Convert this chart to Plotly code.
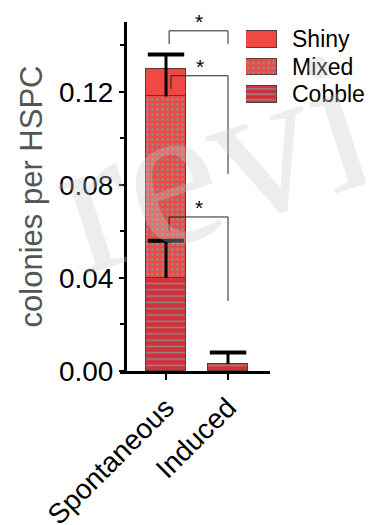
import plotly.graph_objects as go

# ---------------- data ----------------
categories = ["Spontaneous", "Induced"]
cobble = [0.040, 0.003]
mixed = [0.078, 0.0]
shiny = [0.012, 0.0]
cobble_err = [0.016, 0.005]
mixed_err = [0.018, 0.0]
y_ticks = [0.00, 0.04, 0.08, 0.12]
y_tick_labels = ["0.00", "0.04", "0.08", "0.12"]
legend_names = ["Shiny", "Mixed", "Cobble"]
# significance brackets: (x_left, x_right, y_left_end, y_top, y_right_end)
brackets = [
    (0.05, 1.0, 0.1406, 0.1462, 0.1406),
    (0.08, 1.0, 0.1213, 0.1269, 0.0847),
    (0.05, 1.0, 0.0602, 0.0662, 0.0301),
]

# page has an 8px body margin; figure sized to fit the window
OFF = 8
W, H = 373 - OFF, 525 - OFF
RED = "#EE4A43"
DARK = "#D1323A"
GRAY = "#8c8c8c"
EDGE = "#5a3a3a"

xpos = [0, 1]

fig = go.Figure()

def px_x(p):
    return (p - OFF) / W

def px_y(p):
    return 1 - (p - OFF) / H

bar_w = 0.63
fig.add_trace(go.Bar(x=xpos, y=cobble, width=bar_w, name="Cobble",
                     marker=dict(color=DARK, line=dict(color=EDGE, width=1),
                                 pattern=dict(shape="-", fgcolor=GRAY, bgcolor=DARK,
                                              size=6.3, solidity=0.22, fillmode="replace")),
                     showlegend=False))
fig.add_trace(go.Bar(x=xpos, y=mixed, width=bar_w, name="Mixed",
                     marker=dict(color=RED, line=dict(color=EDGE, width=1),
                                 pattern=dict(shape=".", fgcolor=GRAY, bgcolor=RED,
                                              size=5, solidity=0.25, fillmode="replace")),
                     showlegend=False))
fig.add_trace(go.Bar(x=xpos, y=shiny, width=bar_w, name="Shiny",
                     marker=dict(color=RED, line=dict(color=EDGE, width=1)),
                     showlegend=False))

# error bars (upper only) placed at stacked tops
err_x = [xpos[0], xpos[1], xpos[0]]
err_base = [cobble[0], cobble[1], cobble[0] + mixed[0]]
err_len = [cobble_err[0], cobble_err[1], mixed_err[0]]
err_top = [b + e for b, e in zip(err_base, err_len)]
fig.add_trace(go.Scatter(x=err_x, y=err_base, mode="markers",
                         marker=dict(size=1, color="rgba(0,0,0,0)"),
                         error_y=dict(type="data", array=err_len, arrayminus=[0, 0, 0],
                                      symmetric=False, color="black", thickness=3, width=0),
                         showlegend=False, hoverinfo="skip"))
fig.add_trace(go.Scatter(x=err_x, y=err_top, mode="markers",
                         marker=dict(symbol="line-ew", size=26,
                                     line=dict(color="black", width=4)),
                         showlegend=False, hoverinfo="skip"))

# legend swatches on their own axes
leg_colors = [RED, RED, DARK]
leg_shapes = ["", ".", "-"]
leg_sizes = [8, 5, 5.5]
for i, nm in enumerate(legend_names):
    fig.add_trace(go.Bar(x=[1], y=[i], orientation="h", width=0.6,
                         xaxis="x2", yaxis="y2",
                         marker=dict(color=leg_colors[i], line=dict(color=EDGE, width=1),
                                     pattern=dict(shape=leg_shapes[i], fgcolor=GRAY,
                                                  bgcolor=leg_colors[i], size=leg_sizes[i],
                                                  solidity=0.25, fillmode="replace")),
                         showlegend=False, hoverinfo="skip"))

# brackets
for (xl, xr, yl, yt, yr) in brackets:
    fig.add_shape(type="path", xref="x", yref="y",
                  path=f"M {xl},{yl} L {xl},{yt} L {xr},{yt} L {xr},{yr}",
                  line=dict(color="#222", width=1))
    fig.add_annotation(x=(xl + xr) / 2, y=yt, xref="x", yref="y", text="*",
                       showarrow=False, yanchor="bottom", yshift=-4,
                       font=dict(family="Liberation Sans", size=21, color="black"))

# watermark
fig.add_annotation(x=px_x(212), y=px_y(160), xref="paper", yref="paper", text="revi",
                   showarrow=False, textangle=-18, xanchor="center", yanchor="middle",
                   font=dict(family="Liberation Serif", size=205, color="rgba(200,200,200,0.33)"))

fig.update_layout(
    width=W, height=H,
    margin=dict(l=0, r=0, t=0, b=0, autoexpand=False),
    paper_bgcolor="white", plot_bgcolor="rgba(0,0,0,0)",
    barmode="stack", bargap=0,
    font=dict(family="Liberation Sans", color="black"),
    xaxis=dict(domain=[px_x(120), px_x(270)], range=[-0.742, 1.677], automargin=False,
               tickmode="array", tickvals=xpos, ticktext=categories,
               tickangle=-45, tickfont=dict(size=28),
               showline=True, linecolor="black", linewidth=3,
               ticks="outside", ticklen=6, tickwidth=2, tickcolor="black",
               showgrid=False, zeroline=False, fixedrange=True),
    yaxis=dict(domain=[px_y(371), px_y(22)], range=[0, 0.15], automargin=False,
               anchor="free", position=px_x(125),
               tickmode="array", tickvals=y_ticks, ticktext=y_tick_labels,
               tickfont=dict(size=28),
               showline=True, linecolor="black", linewidth=3,
               ticks="outside", ticklen=5, tickwidth=2, tickcolor="black",
               minor=dict(dtick=0.02, ticks="outside", ticklen=4, tickwidth=2, tickcolor="black"),
               showgrid=False, zeroline=False,
               title=dict(text="colonies per HSPC", standoff=6,
                          font=dict(size=31, color="#555555"))),
    xaxis2=dict(domain=[px_x(246), px_x(277)], range=[0, 1], visible=False,
                fixedrange=True, automargin=False),
    yaxis2=dict(domain=[px_y(107.7), px_y(25.5)], range=[2.5, -0.5], anchor="x2",
                side="right", showline=False, showgrid=False, zeroline=False, automargin=False,
                tickmode="array", tickvals=[0, 1, 2], ticktext=legend_names,
                ticks="", ticklabelstandoff=14, tickfont=dict(size=23, color="black")),
)

fig.write_html("out.html")
